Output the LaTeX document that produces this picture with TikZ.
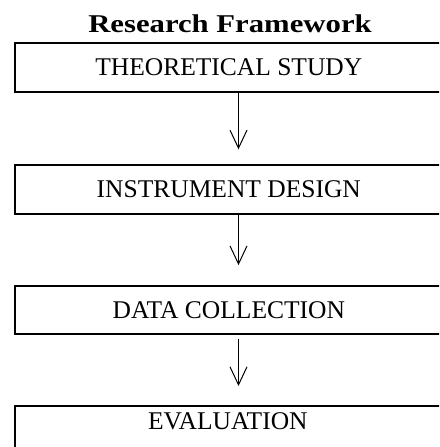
\documentclass[tikz,border=0pt]{standalone}
\usepackage{fontspec}
\setmainfont{Liberation Serif}
\usetikzlibrary{arrows.meta}
\begin{document}
\begin{tikzpicture}[x=1pt,y=1pt,
  stagebox/.style={draw, line width=2pt, minimum width=427pt, minimum height=48.4pt,
    inner sep=0pt, anchor=north west, font=\fontsize{25.5}{30}\selectfont},
  stagetext/.style={inner sep=0pt, font=\fontsize{25.5}{30}\selectfont},
  flow/.style={line width=1pt, -{Straight Barb[length=18pt,width=17pt,line width=1pt]}},
  heading/.style={anchor=base, inner sep=0pt, font=\bfseries\fontsize{25.6}{30}\selectfont}]
\useasboundingbox (0,0) rectangle (439,-447);
\begin{scope}
\clip (0,0) rectangle (439,-447);

\node[heading] (title) at (230,-32.3) {\scalebox{1.2}[1]{Research Framework}};

\node[stagebox] (s1) at (14.3,-42.3) {THEORETICAL STUDY};
\node[stagebox] (s2) at (14.3,-164.3) {INSTRUMENT DESIGN};
\node[stagebox] (s3) at (14.3,-284.6) {DATA COLLECTION};
% last stage runs past the lower edge
\node[stagebox, minimum height=70pt] (s4) at (14.3,-404.7) {};
\node[stagetext] (s4label) at (227.8,-421.7) {EVALUATION};

\draw[flow, shorten >=15pt] ([xshift=9.7pt]s1.south) -- ([xshift=9.7pt]s2.north);
\draw[flow, shorten >=19.5pt] ([xshift=9.7pt]s2.south) -- ([xshift=9.7pt]s3.north);
\draw[flow, shorten <=3.7pt, shorten >=18.7pt] ([xshift=9.7pt]s3.south) -- ([xshift=9.7pt]s4.north);
\end{scope}
\end{tikzpicture}
\end{document}
